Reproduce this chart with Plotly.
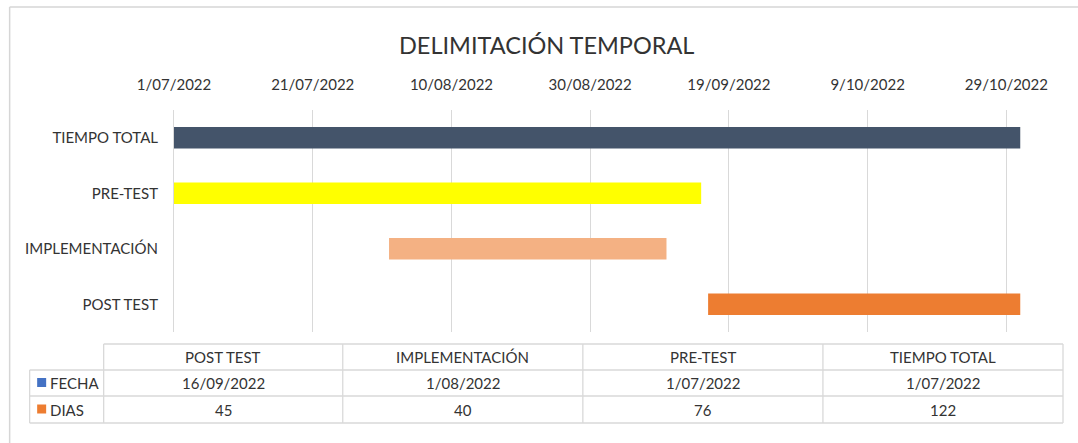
import datetime as dt
import plotly.graph_objects as go

# ---------------- data ----------------
tasks = ["POST TEST", "IMPLEMENTACIÓN", "PRE-TEST", "TIEMPO TOTAL"]
start_dates = ["2022-09-16", "2022-08-01", "2022-07-01", "2022-07-01"]
durations_days = [45, 40, 76, 122]
bar_colors = ["#ED7D31", "#F4B183", "#FFFF00", "#44546A"]
series_names = ["FECHA", "DIAS"]
series_colors = ["#4472C4", "#ED7D31"]
title_text = "DELIMITACIÓN TEMPORAL"
axis_start = "2022-07-01"
axis_end = "2022-11-04"
tick_step_days = 20

# ---------------- layout geometry (pixels) ----------------
FIG_W, FIG_H = 1078, 443
L, R, T, B = 174.3, 30, 110, 111
PW = FIG_W - L - R
PH = FIG_H - T - B
FONT = "Lato"
TXT = "#333333"
GRID = "#D9D9D9"


def px(xp):
    return (xp - L) / PW


def py(yp):
    return 1 - (yp - T) / PH


def fmt_date(s):
    d = dt.date.fromisoformat(s)
    return f"{d.day}/{d.month:02d}/{d.year}"


DAY_MS = 86400000
fig = go.Figure()
fig.add_trace(go.Bar(
    y=tasks,
    x=[d * DAY_MS for d in durations_days],
    base=start_dates,
    orientation="h",
    marker=dict(color=bar_colors, line=dict(width=0)),
    showlegend=False,
    hoverinfo="skip",
))

# ---------------- data table (shapes + annotations) ----------------
shapes = []
annotations = []
col_x = [104, 343, 583, 823, 1063]
row_y = [344, 370, 396, 423]
lab_x0 = 30
line = dict(color=GRID, width=1.3)


def hline(x0, x1, y):
    shapes.append(dict(type="line", xref="paper", yref="paper", x0=px(x0), x1=px(x1),
                       y0=py(y), y1=py(y), line=line, layer="above"))


def vline(x, y0, y1):
    shapes.append(dict(type="line", xref="paper", yref="paper", x0=px(x), x1=px(x),
                       y0=py(y0), y1=py(y1), line=line, layer="above"))


hline(col_x[0], col_x[-1], row_y[0])
for yy in row_y[1:]:
    hline(lab_x0, col_x[-1], yy)
vline(lab_x0, row_y[1], row_y[-1])
for xx in col_x:
    vline(xx, row_y[0], row_y[-1])

# outer chart frame (top & left visible)
shapes.append(dict(type="line", xref="paper", yref="paper", x0=px(10), x1=px(1090),
                   y0=py(7), y1=py(7), line=dict(color="#D6D6D6", width=1.5)))
shapes.append(dict(type="line", xref="paper", yref="paper", x0=px(10), x1=px(10),
                   y0=py(7), y1=py(460), line=dict(color="#D6D6D6", width=1.5)))

table_order = tasks  # table columns follow series order
row_values = [
    [fmt_date(s) for s in start_dates],
    [str(d) for d in durations_days],
]


def ann(text, xc, yc, xanchor="center", size=15):
    annotations.append(dict(text=text, xref="paper", yref="paper", x=px(xc), y=py(yc),
                            xanchor=xanchor, yanchor="middle", showarrow=False,
                            font=dict(family=FONT, size=size, color=TXT)))


for i, name in enumerate(table_order):
    xc = (col_x[i] + col_x[i + 1]) / 2
    ann(name, xc, (row_y[0] + row_y[1]) / 2)
    for r in range(2):
        ann(row_values[r][i], xc, (row_y[r + 1] + row_y[r + 2]) / 2)

for r in range(2):
    yc = (row_y[r + 1] + row_y[r + 2]) / 2
    shapes.append(dict(type="rect", xref="paper", yref="paper",
                       x0=px(37.5), x1=px(46.5), y0=py(yc - 5), y1=py(yc + 4),
                       fillcolor=series_colors[r], line=dict(width=0)))
    ann(series_names[r], 48, yc, xanchor="left")

# title
annotations.append(dict(text=title_text, xref="paper", yref="paper", x=px(546.5), y=py(45),
                        xanchor="center", yanchor="middle", showarrow=False,
                        font=dict(family=FONT, size=23.5, color=TXT)))

fig.update_layout(
    width=FIG_W, height=FIG_H,
    margin=dict(l=L, r=R, t=T, b=B, autoexpand=False),
    paper_bgcolor="white", plot_bgcolor="white",
    bargap=0.61,
    shapes=shapes,
    annotations=annotations,
    font=dict(family=FONT, color=TXT),
    xaxis=dict(
        type="date", side="top", range=[axis_start, axis_end],
        tick0=axis_start, dtick=tick_step_days * DAY_MS, tickformat="%-d/%m/%Y",
        showgrid=True, gridcolor=GRID, gridwidth=1, zeroline=False, showline=False,
        ticks="", ticklabelstandoff=16,
        tickfont=dict(family=FONT, size=15, color=TXT),
    ),
    yaxis=dict(
        type="category", categoryorder="array", categoryarray=tasks,
        showgrid=False, zeroline=False, showline=True, linecolor=GRID, linewidth=1,
        ticks="", ticklabelstandoff=12,
        tickfont=dict(family=FONT, size=15, color=TXT),
    ),
)

fig.write_html("out.html", config={"displayModeBar": False},
               post_script="document.body.style.margin='0';")
